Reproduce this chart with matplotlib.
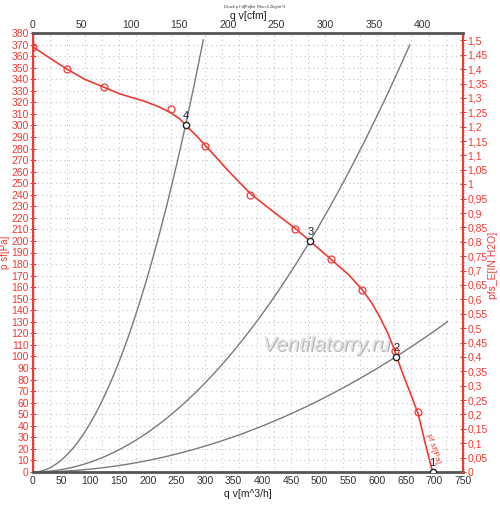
import numpy as np
import matplotlib
matplotlib.use('Agg')
import matplotlib.pyplot as plt
import matplotlib.patheffects as pe
from matplotlib.ticker import MultipleLocator, FuncFormatter

plt.rcParams['font.family'] = ['Liberation Sans', 'DejaVu Sans']

# fan curve (m^3/h, Pa)
fan_q = [0, 30, 60, 90, 124, 150, 194, 220, 240, 255, 266, 285, 300, 340, 379, 420,
         457, 483, 520, 550, 574, 590, 605, 618, 628, 634, 648, 660, 672, 684, 697]
fan_p = [368, 358, 348.5, 340, 333, 327.5, 321, 316, 311, 306, 300.5, 291, 283, 261,
         241, 225, 211, 200, 184, 171, 158, 147, 134, 121, 109, 100, 81, 66, 50, 25, 0]

# measured points (red circles)
meas_q = [0, 60, 124, 240, 300, 379, 457, 520, 574, 631, 672]
meas_p = [368, 348.6, 333, 314, 282, 240, 210.6, 184, 157.6, 105, 52.2]

# operating points
op_q = [697, 634, 483.5, 266]
op_p = [0, 99.5, 200, 300.5]
op_labels = ['1', '2', '3', '4']

# system curves p = k*q^2 and where they stop
sys_k = [0.00424, 0.000856, 0.000249]
sys_qmax = [297, 657, 723]

PA_PER_INH2O = 249.089
M3H_PER_CFM = 1.699

red = '#f03a35'
grey = '#7a7a7a'

fig = plt.figure(figsize=(5, 5.05), dpi=100)
ax = fig.add_axes([0.066, 0.0653, 0.86, 0.8694])

# dotted grid
dot = (0, (1, 3))
ax.hlines(np.arange(10, 380, 10), 0, 750, colors='#c4c4c4', linestyles=dot, lw=0.8, zorder=0)
ax.vlines(np.arange(30, 750, 30), 0, 380, colors='#c4c4c4', linestyles=dot, lw=0.8, zorder=0)

for k, qm in zip(sys_k, sys_qmax):
    q = np.linspace(0, qm, 200)
    ax.plot(q, k * q ** 2, color=grey, lw=1)

ax.plot(fan_q, fan_p, color=red, lw=1.2)
ax.plot(meas_q, meas_p, 'o', ms=5, mfc='none', mec=red, mew=0.9)
ax.plot(op_q, op_p, 'o', ms=4.5, mfc='white', mec='#222222', mew=1, zorder=5)
for q, p, lab in zip(op_q, op_p, op_labels):
    ax.annotate(lab, (q, p), xytext=(0, 3), textcoords='offset points',
                ha='center', va='bottom', fontsize=8, color='#222222')

ax.text(698, 20, 'pf sf[Pa]', color=red, fontsize=6, rotation=-72,
        ha='center', va='center')

ax.text(512, 110, 'Ventilatorry.ru', fontsize=15, style='italic',
        color='#e4e4e4', ha='center', va='center',
        path_effects=[pe.withSimplePatchShadow(offset=(1, -1), shadow_rgbFace='#8a8a8a', alpha=0.6)])

ax.set_xlim(0, 750)
ax.set_ylim(0, 380)
ax.set_xticks(np.arange(0, 751, 50))
ax.set_yticks(np.arange(0, 381, 10))
ax.yaxis.set_minor_locator(MultipleLocator(2))
ax.tick_params(axis='y', which='both', colors=red, labelsize=7.5, direction='inout', pad=1)
ax.tick_params(axis='y', which='major', length=4)
ax.tick_params(axis='y', which='minor', length=2)
ax.tick_params(axis='x', which='both', length=0, labelsize=7.5, pad=3, labelcolor='#333333')

for s in ['top', 'bottom']:
    ax.spines[s].set_color('#555555')
    ax.spines[s].set_linewidth(2)
ax.spines['left'].set_color(red)
ax.spines['left'].set_linewidth(1.5)
ax.spines['right'].set_color(red)
ax.spines['right'].set_linewidth(1.5)

ax.set_ylabel('p sf[Pa]', color=red, fontsize=7)
ax.yaxis.set_label_coords(-0.053, 0.5)
ax.set_xlabel('q v[m^3/h]', fontsize=7.5, labelpad=2, color='#222222')

# right axis in inch water
ax2 = ax.twinx()
ax2.set_ylim(0, 380 / PA_PER_INH2O)
ax2.yaxis.set_major_locator(MultipleLocator(0.05))
ax2.yaxis.set_minor_locator(MultipleLocator(0.01))
ax2.yaxis.set_major_formatter(FuncFormatter(lambda v, pos: ('%g' % round(v, 2)).replace('.', ',')))
ax2.tick_params(axis='y', which='both', colors=red, labelsize=7.5, direction='inout', pad=1)
ax2.tick_params(axis='y', which='major', length=4)
ax2.tick_params(axis='y', which='minor', length=2)
for s in ax2.spines.values():
    s.set_visible(False)
ax2.set_ylabel('pfs_E[IN H2O]', color=red, fontsize=7.5)
ax2.yaxis.set_label_coords(1.058, 0.47)

# top axis in cfm
top = ax.secondary_xaxis('top', functions=(lambda x: x / M3H_PER_CFM, lambda x: x * M3H_PER_CFM))
top.set_xticks(np.arange(0, 401, 50))
top.tick_params(length=0, labelsize=7.5, pad=2, labelcolor='#333333')
top.spines['top'].set_visible(False)
top.set_xlabel('q v[cfm]', fontsize=7.5, labelpad=1, color='#222222')

fig.text(0.51, 0.99, 'Druck p f d[Pa]für Rho=1,2kg/m^3', fontsize=3, ha='center', va='top', color='#333333')

fig.savefig('out.png', dpi=100)
